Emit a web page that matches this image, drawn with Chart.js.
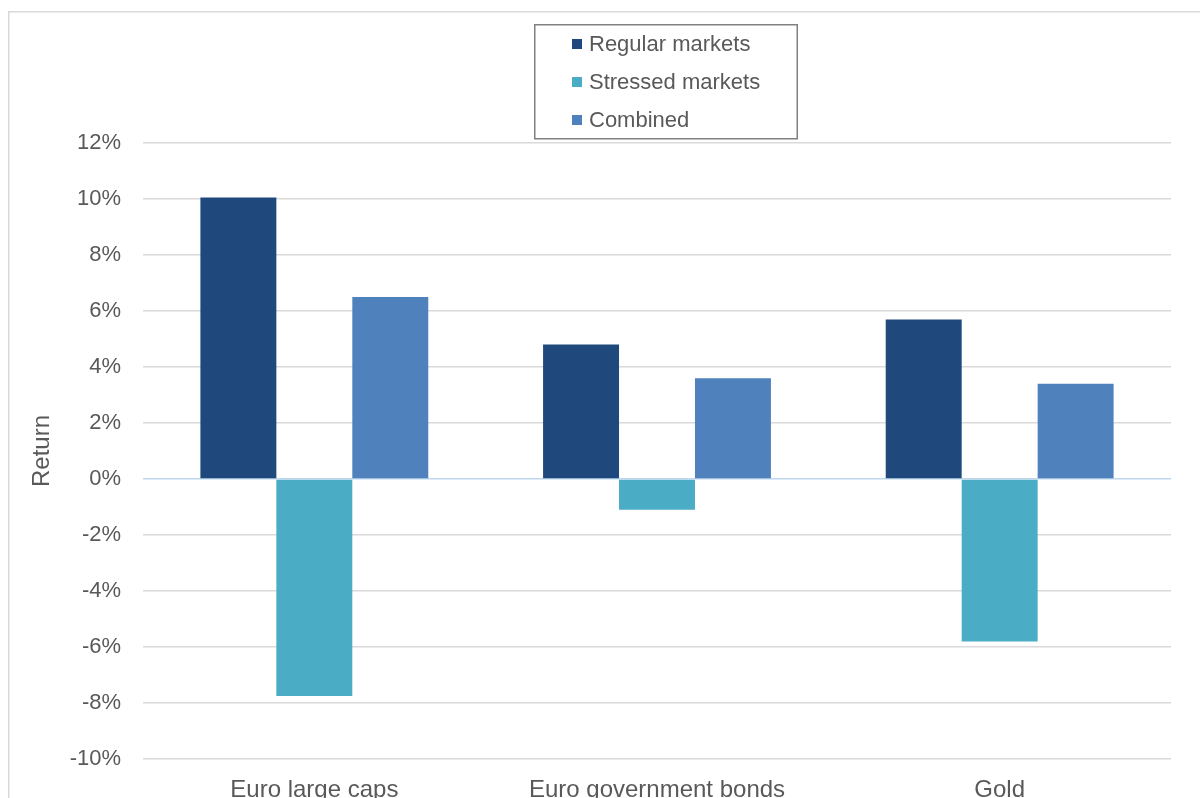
<!DOCTYPE html>
<html>
<head>
<meta charset="utf-8">
<script src="https://cdn.jsdelivr.net/npm/chart.js@4.4.1/dist/chart.umd.min.js"></script>
<style>
  html, body { margin: 0; padding: 0; background: #fff; overflow: hidden; }
  #wrap { width: 1200px; height: 798px; position: relative; }
</style>
</head>
<body>
<div id="wrap"><canvas id="returnChart" width="1200" height="798"></canvas></div>
<script>
// asset classes and returns (%) per market regime
const categories = ['Euro large caps', 'Euro government bonds', 'Gold'];
const regularMarkets = [10.05, 4.8, 5.7];
const stressedMarkets = [-7.75, -1.1, -5.8];
const combined = [6.5, 3.6, 3.4];
const seriesNames = ['Regular markets', 'Stressed markets', 'Combined'];
const yTicks = [-10, -8, -6, -4, -2, 0, 2, 4, 6, 8, 10, 12];

const colors = { regular: '#1f497d', stressed: '#4bacc6', combined: '#4f81bd', text: '#595959', grid: '#d9d9d9', zero: '#bdd7ee' };
const fontFamily = "'Liberation Sans', Arial, sans-serif";

// frame around the whole chart + the boxed legend at the top
const framePlugin = {
  id: 'frame',
  beforeDraw(chart) {
    const ctx = chart.ctx;
    ctx.save();
    ctx.strokeStyle = '#d9d9d9';
    ctx.lineWidth = 1.5;
    ctx.strokeRect(8.75, 11.75, 1400, 1000);
    ctx.restore();
  },
  afterDraw(chart) {
    const ctx = chart.ctx;
    ctx.save();
    ctx.fillStyle = '#fff';
    ctx.fillRect(534, 24, 263, 115);
    ctx.strokeStyle = '#808080';
    ctx.lineWidth = 1.5;
    ctx.strokeRect(534.75, 24.75, 262.5, 114);
    ctx.font = '22px ' + fontFamily;
    ctx.textBaseline = 'middle';
    chart.data.datasets.forEach((ds, i) => {
      const y = 44 + i * 38;
      ctx.fillStyle = ds.backgroundColor;
      ctx.fillRect(572, y - 5, 10, 10);
      ctx.fillStyle = colors.text;
      ctx.fillText(ds.label, 589, y + 1);
    });
    ctx.restore();
  }
};

new Chart(document.getElementById('returnChart'), {
  type: 'bar',
  data: {
    labels: categories,
    datasets: [
      { label: seriesNames[0], data: regularMarkets, backgroundColor: colors.regular },
      { label: seriesNames[1], data: stressedMarkets, backgroundColor: colors.stressed },
      { label: seriesNames[2], data: combined, backgroundColor: colors.combined }
    ]
  },
  options: {
    responsive: false,
    animation: false,
    devicePixelRatio: 1,
    categoryPercentage: 0.665,
    barPercentage: 1,
    layout: { padding: { top: 143, left: 24, right: 29, bottom: 0 } },
    plugins: { legend: { display: false }, tooltip: { enabled: false } },
    scales: {
      x: {
        grid: { display: false },
        border: { display: false },
        ticks: { color: colors.text, font: { family: fontFamily, size: 24 }, padding: 9, maxRotation: 0 },
        afterFit(scale) { scale.height = 39; }
      },
      y: {
        min: -10,
        max: 12,
        afterBuildTicks(scale) { scale.ticks = yTicks.map(v => ({ value: v })); },
        afterFit(scale) { scale.width = 119; },
        border: { display: false },
        grid: {
          drawTicks: false,
          lineWidth: 1.5,
          color: ctx => (ctx.tick && ctx.tick.value === 0 ? colors.zero : colors.grid)
        },
        ticks: {
          color: colors.text,
          font: { family: fontFamily, size: 22 },
          padding: 22,
          callback: v => v + '%'
        },
        title: {
          display: true,
          text: 'Return',
          color: colors.text,
          font: { family: fontFamily, size: 24 },
          padding: { top: 4, bottom: 4 }
        }
      }
    }
  },
  plugins: [framePlugin]
});
</script>
</body>
</html>
